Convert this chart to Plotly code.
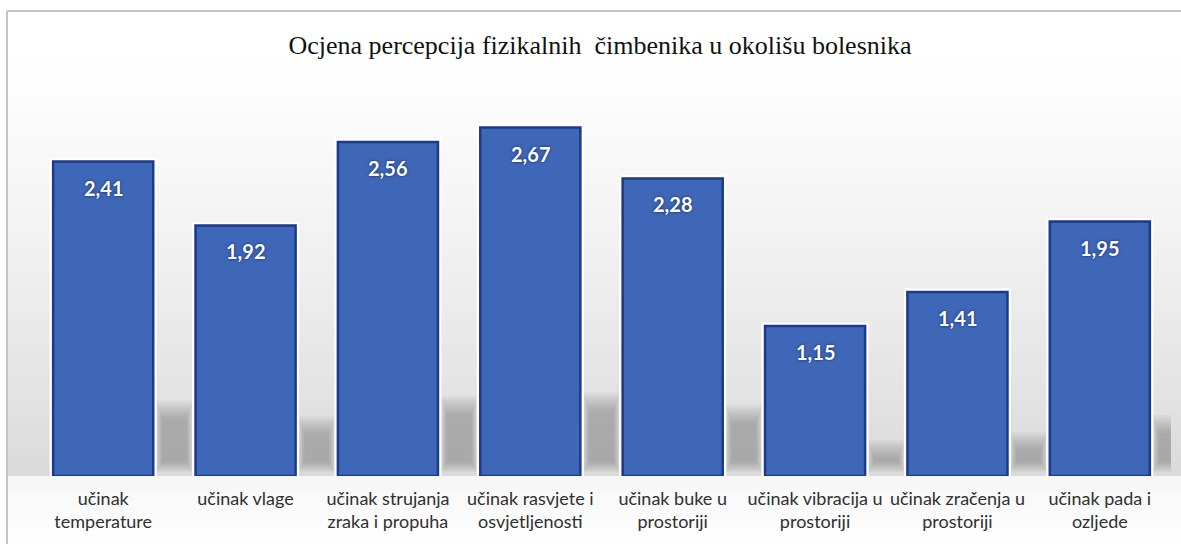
import plotly.graph_objects as go

categories = [
    "učinak<br>temperature",
    "učinak vlage",
    "učinak strujanja<br>zraka i propuha",
    "učinak rasvjete i<br>osvjetljenosti",
    "učinak buke u<br>prostoriji",
    "učinak vibracija u<br>prostoriji",
    "učinak zračenja u<br>prostoriji",
    "učinak pada i<br>ozljede",
]
values = [2.41, 1.92, 2.56, 2.67, 2.28, 1.15, 1.41, 1.95]
value_labels = ["2,41", "1,92", "2,56", "2,67", "2,28", "1,15", "1,41", "1,95"]
title_text = "Ocjena percepcija fizikalnih  čimbenika u okolišu bolesnika"

W, H = 1181, 544
L, R, T, B = 32, 10, 70, 68
PW, PH = W - L - R, H - T - B
YMAX = (H - B - T) / 130.5


def px(x):
    return (x - L) / PW


def py(y):
    return (H - B - y) / PH


xs = list(range(len(categories)))

shapes = []
# background gradient above baseline
n = 60
top, base = 11, H - B
for k in range(n):
    y0 = top + (base - top) * k / n
    y1 = top + (base - top) * (k + 1) / n
    ym = (y0 + y1) / 2
    t = max(0.0, (ym - 45) / (base - 45)) ** 1.25
    v = int(round(255 - (255 - 218) * t))
    shapes.append(dict(type="rect", xref="paper", yref="paper", x0=px(7), x1=px(W + 2),
                       y0=py(y1) - 0.002, y1=py(y0), fillcolor=f"rgb({v},{v},{v})",
                       line=dict(width=0), layer="below"))
# below baseline gradient
m = 16
for k in range(m):
    y0 = base + (H - base) * k / m
    y1 = base + (H - base) * (k + 1) / m
    t = (k + 0.5) / m
    v = int(round(246 + (255 - 246) * t))
    shapes.append(dict(type="rect", xref="paper", yref="paper", x0=px(7), x1=px(W + 2),
                       y0=py(y1) - 0.002, y1=py(y0), fillcolor=f"rgb({v},{v},{v})",
                       line=dict(width=0), layer="below"))
# soft shadows to the right of bars
for i, v in enumerate(values):
    h = 0.24 * v
    for j in range(10):
        ix = 0.005 * j
        iy = 0.011 * j
        shapes.append(dict(type="rect", xref="x", yref="y",
                           x0=i + 0.37 + ix, x1=i + 0.63 - ix,
                           y0=0.03 + iy * 0.8, y1=h - iy * 1.4,
                           fillcolor="rgba(110,110,110,0.055)", line=dict(width=0),
                           layer="below"))
# chart border (left + top)
shapes.append(dict(type="line", xref="paper", yref="paper", x0=px(7), x1=px(W + 5),
                   y0=py(11), y1=py(11), line=dict(color="#c4c4c4", width=2)))
shapes.append(dict(type="line", xref="paper", yref="paper", x0=px(7), x1=px(7),
                   y0=py(11), y1=py(H + 5), line=dict(color="#c4c4c4", width=2)))

fig = go.Figure()
fig.add_trace(go.Bar(x=xs, y=values, marker=dict(color="white", line=dict(color="white", width=7)),
                     hoverinfo="skip", showlegend=False))
fig.add_trace(go.Bar(x=xs, y=values, marker=dict(color="#3f67b8", line=dict(color="#1d3a8a", width=2.5)),
                     hoverinfo="skip", showlegend=False))

annotations = []
for x, v, lab in zip(xs, values, value_labels):
    annotations.append(dict(x=x, y=v, xref="x", yref="y", text=lab, showarrow=False,
                            yshift=-26, font=dict(family="Lato", size=20, color="white",
                                                  weight="bold", shadow="0px 0px 3px #0e2466")))

fig.update_layout(
    width=W, height=H,
    margin=dict(l=L, r=R, t=T, b=B, pad=0),
    paper_bgcolor="white",
    plot_bgcolor="rgba(0,0,0,0)",
    barmode="overlay",
    bargap=0.297,
    title=dict(text=title_text, x=px(600), xanchor="center", xref="paper",
               y=1 - 45 / H, yanchor="middle", yref="container",
               font=dict(family="Liberation Serif", size=26, color="#111111")),
    xaxis=dict(tickmode="array", tickvals=xs, ticktext=categories, range=[-0.5, len(xs) - 0.5],
               showgrid=False, zeroline=False, showline=False, ticks="",
               tickfont=dict(family="Lato", size=18, color="#303030"), ticklabelstandoff=10),
    yaxis=dict(range=[0, YMAX], visible=False, showgrid=False, zeroline=False),
    shapes=shapes,
    annotations=annotations,
    showlegend=False,
)

fig.write_html("out.html", config={"displayModeBar": False},
               post_script="document.body.style.margin='0';")
